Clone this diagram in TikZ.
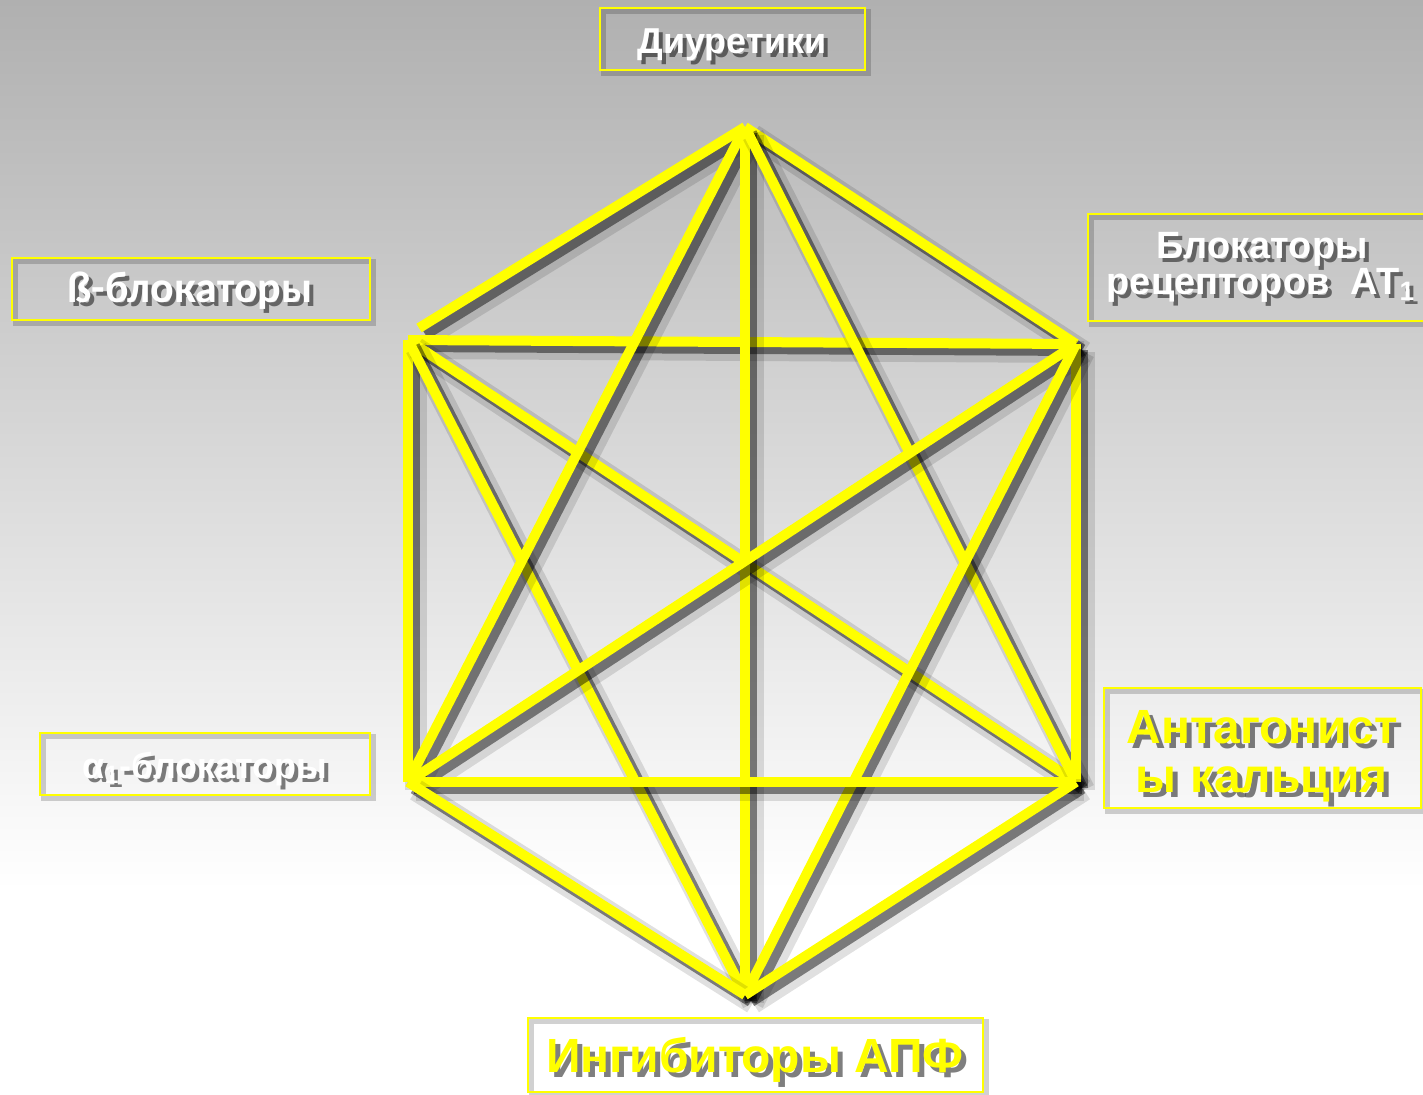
\documentclass[tikz,border=0pt]{standalone}
\usepackage{fontspec}
\setmainfont{Liberation Sans}
\newfontfamily\carlito{Carlito}
\usetikzlibrary{positioning}
\definecolor{stickyellow}{HTML}{FFFF00}
\definecolor{bgtop}{HTML}{B0B0B0}
\definecolor{bgmid}{HTML}{D6D6D6}
\tikzset{
    every picture/.style={line cap=butt,line join=miter},
    stick/.style={draw=stickyellow,line width=5pt,
      preaction={draw=black,opacity=.12,line width=11pt,
        transform canvas={shift={(4pt,-4pt)}}},
      preaction={draw=black,opacity=.45,line width=6pt,
        transform canvas={shift={(3pt,-3pt)}}}},
    labelbox/.style={draw=stickyellow,line width=1pt,inner sep=0pt,
      preaction={draw=black,opacity=.18,line width=2.5pt,
        transform canvas={shift={(1.8pt,-1.8pt)}}}},
    labeltext/.style={inner sep=0pt,anchor=base,font=\bfseries\fontsize{19}{22}\selectfont},
    bigtext/.style={labeltext,font=\bfseries\fontsize{24}{28}\selectfont},
    txtshadow/.style={text=black,text opacity=.5}
}

\begin{document}
\begin{tikzpicture}[x=0.5pt,y=-0.5pt]
  \useasboundingbox (0,0) rectangle (1423,1094);
  % background
  \shade[top color=bgtop,middle color=bgmid,bottom color=white] (0,0) rectangle (1423,890);
  \fill[white] (0,890) rectangle (1423,1094);

  % corners of the hexagon
  \coordinate (T)   at (745,127);
  \coordinate (ULt) at (419,328);
  \coordinate (UL)  at (408,340);
  \coordinate (UR)  at (1076,344);
  \coordinate (LL)  at (408,782);
  \coordinate (LR)  at (1076,782);
  \coordinate (B)   at (745,995);

  \draw[stick] (T) -- (ULt);
  \foreach \a/\b in {T/UR,UL/UR,UL/LL,UL/LR,UL/B,T/LL,T/B,T/LR,
                     UR/LL,UR/LR,UR/B,LL/LR,LL/B,LR/B}
    \draw[stick] (\a) -- (\b);

  % boxes
  \node[labelbox,minimum width=132.5pt,minimum height=31pt] (diur)  at (732,39) {};
  \node[labelbox,minimum width=179pt,minimum height=31pt]   (beta)  at (191,289) {};
  \node[labelbox,minimum width=174pt,minimum height=53.5pt] (arb)   at (1262,267) {};
  \node[labelbox,minimum width=165pt,minimum height=31pt]   (alpha) at (205,764) {};
  \node[labelbox,minimum width=158.5pt,minimum height=60pt] (ca)    at (1262,748) {};
  \node[labelbox,minimum width=227.5pt,minimum height=37pt] (ace)   at (755,1055) {};

  % texts
  \node[labeltext,txtshadow,font=\bfseries\fontsize{18}{22}\selectfont] (diurS) at (736,57) {Диуретики};
  \node[labeltext,text=white,font=\bfseries\fontsize{18}{22}\selectfont] (diurT) at (732,53) {Диуретики};

  \node[labeltext,txtshadow,font=\carlito\bfseries\fontsize{22}{26}\selectfont] (betaS) at (194,306) {ß-блокаторы};
  \node[labeltext,text=white,font=\carlito\bfseries\fontsize{22}{26}\selectfont] (betaT) at (190,302) {ß-блокаторы};

  \node[labeltext,txtshadow] (arbS1) at (1266,262) {Блокаторы};
  \node[labeltext,text=white] (arbT1) at (1262,258) {Блокаторы};
  \node[labeltext,txtshadow] (arbS2) at (1265,298) {рецепторов\ \ АТ\textsubscript{1}};
  \node[labeltext,text=white] (arbT2) at (1261,294) {рецепторов\ \ АТ\textsubscript{1}};

  \node[labeltext,txtshadow,font=\bfseries\fontsize{18}{22}\selectfont] (alphaS) at (209,782) {α\textsubscript{1}-блокаторы};
  \node[labeltext,text=white,font=\bfseries\fontsize{18}{22}\selectfont] (alphaT) at (205,778) {α\textsubscript{1}-блокаторы};

  \node[bigtext,txtshadow] (caS1) at (1267,748) {Антагонист};
  \node[bigtext,text=stickyellow] (caT1) at (1262,743) {Антагонист};
  \node[bigtext,txtshadow] (caS2) at (1267,797) {ы кальция};
  \node[bigtext,text=stickyellow] (caT2) at (1262,792) {ы кальция};

  \node[bigtext,txtshadow] (aceS) at (760,1077) {Ингибиторы АПФ};
  \node[bigtext,text=stickyellow] (aceT) at (755,1072) {Ингибиторы АПФ};
\end{tikzpicture}
\end{document}
